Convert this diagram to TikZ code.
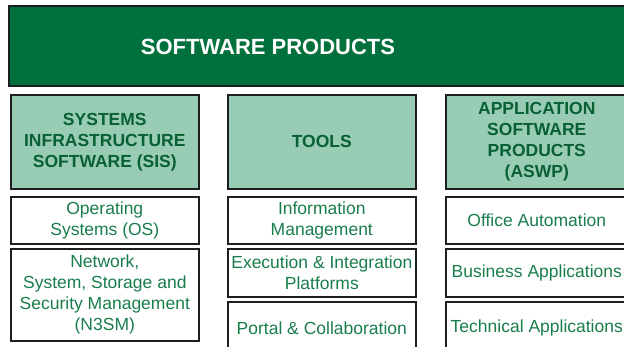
\documentclass[tikz,border=0pt]{standalone}
\usepackage{fontspec}
\setmainfont{Liberation Sans}
\definecolor{darkgreen}{RGB}{0,112,60}
\definecolor{lightgreen}{RGB}{152,204,180}
\definecolor{txtgreen}{RGB}{25,125,75}
\definecolor{hdrgreen}{RGB}{8,96,52}
\definecolor{edge}{RGB}{30,30,30}
\tikzset{
  box/.style={draw=edge, line width=1.6pt, rectangle, anchor=north west, inner sep=0pt,
    minimum width=188pt, align=center, text=txtgreen,
    font=\fontsize{17.5}{21}\selectfont},
  hdr/.style={box, fill=lightgreen, text=hdrgreen, minimum height=94pt,
    font=\fontsize{17.5}{21}\selectfont\bfseries},
  narrow/.style={minimum width=182pt},
  topbox/.style={draw=edge, line width=1.6pt, fill=darkgreen, rectangle, anchor=north west,
    inner sep=0pt, minimum width=660pt, minimum height=80pt},
  title/.style={text=white, font=\fontsize{22}{26}\selectfont\bfseries}
}
\begin{document}
\begin{tikzpicture}[x=1pt,y=-1pt]
\useasboundingbox (0,0) rectangle (624,346);
\clip (0,0) rectangle (624,346);
\node[topbox] (top) at (8,5) {};
\node[title] (toptext) at (268,47) {SOFTWARE PRODUCTS};
% column 1
\node[hdr] (sis) at (10,94) {SYSTEMS\\INFRASTRUCTURE\\SOFTWARE (SIS)};
\node[box, minimum height=47pt] (os) at (10,196) {Operating\\Systems (OS)};
\node[box, minimum height=92pt] (n3sm) at (10,248) {Network,\\System, Storage and\\Security Management\\(N3SM)};
% column 2
\node[hdr] (tools) at (227,94) {TOOLS};
\node[box, minimum height=47pt] (im) at (227,196) {Information\\Management};
\node[box, minimum height=48pt] (eip) at (227,248) {Execution \& Integration\\Platforms};
\node[box, minimum height=52pt] (pc) at (227,301) {Portal \& Collaboration};
% column 3 (its right edge lies beyond the picture)
\node[hdr, narrow] (aswp) at (445,94) {APPLICATION\\SOFTWARE\\PRODUCTS\\(ASWP)};
\node[box, narrow, minimum height=47pt] (oa) at (445,196) {Office Automation};
\node[box, narrow, minimum height=48pt] (ba) at (445,248) {Business Applications};
\node[box, narrow, minimum height=52pt] (ta) at (445,301) {Technical Applications};
\end{tikzpicture}
\end{document}
